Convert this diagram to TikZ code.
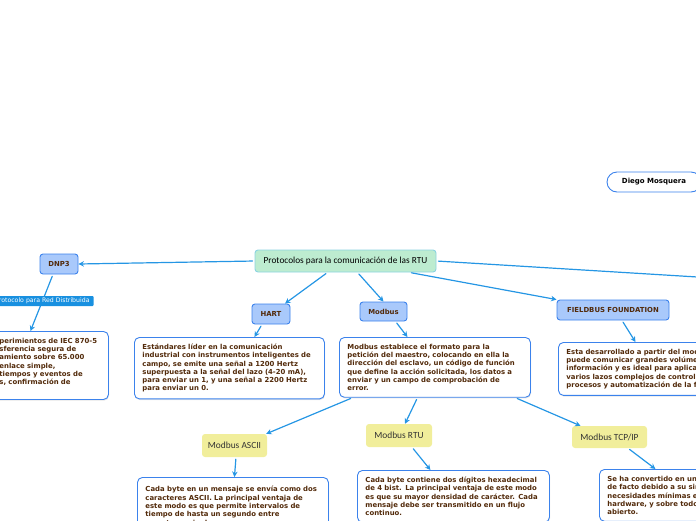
\documentclass[tikz,border=0pt]{standalone}
\usepackage{fontspec}
\setmainfont{DejaVu Sans}
\newfontfamily\calfont{Carlito}
\usetikzlibrary{shadows,arrows.meta}
\definecolor{linea}{RGB}{37,150,228}
\definecolor{azulfill}{RGB}{169,201,251}
\definecolor{azulborde}{RGB}{59,130,236}
\definecolor{verdefill}{RGB}{189,236,208}
\definecolor{verdeborde}{RGB}{138,211,224}
\definecolor{amarillo}{RGB}{241,238,155}
\definecolor{marron}{RGB}{82,42,10}
\definecolor{etiq}{RGB}{24,144,224}
\begin{document}
\begin{tikzpicture}[x=1pt,y=-1pt,line join=round,line cap=round,>={Stealth[length=5.5pt,width=5.5pt]}]
	\tikzset{
		tema/.style={rounded corners=3pt,draw=verdeborde,fill=verdefill,line width=0.9pt,font=\calfont\fontsize{9.3}{10}\selectfont,text=black,inner sep=0pt,minimum width=181pt,minimum height=22pt},
		sub/.style={rounded corners=3pt,draw=azulborde,fill=azulfill,line width=0.9pt,font=\bfseries\fontsize{6.9}{8}\selectfont,text=marron,inner sep=0pt,minimum height=20pt},
		modo/.style={rounded corners=3pt,fill=amarillo,font=\calfont\fontsize{9.4}{10}\selectfont,text=black!80,inner sep=0pt,minimum height=23pt},
		caja/.style={rounded corners=5pt,draw=azulborde,fill=white,line width=0.9pt,drop shadow={shadow xshift=0.6pt,shadow yshift=-1.2pt,opacity=0.2},font=\bfseries\fontsize{6.9}{8.3}\selectfont,text=marron,align=left,inner xsep=8pt,inner ysep=6.5pt,anchor=north west},
		flecha/.style={->,draw=linea,line width=1.2pt,shorten <=2pt},
		etiqueta/.style={fill=etiq,text=white,font=\fontsize{6.2}{7}\selectfont,rounded corners=1pt,inner xsep=4pt,inner ysep=2pt}
	}
	\useasboundingbox (0,0) rectangle (696,520);
	\clip (0,0) rectangle (696,520);
	% nodos principales
	\node[tema] (hub) at (345.5,261) {Protocolos para la comunicación de las RTU};
	\node[sub,minimum width=38pt] (dnp) at (59,264) {DNP3};
	\node[sub,minimum width=38pt] (hart) at (271,314) {HART};
	\node[sub,minimum width=47pt,minimum height=19pt] (modbus) at (383.5,311.5) {Modbus};
	\node[sub,minimum width=112pt] (fb) at (613,310) {FIELDBUS FOUNDATION};
	\node[draw=azulborde,fill=white,line width=0.9pt,rounded corners=10pt,minimum width=94pt,minimum height=20pt,inner sep=0pt,font=\bfseries\fontsize{7}{8}\selectfont] (autor) at (654,182) {Diego Mosquera};
	\coordinate (fuera) at (730,279);
	% textos
	\node[caja,text width=101pt] (dnptxt) at (-9,331) {perimientos de IEC 870-5\\sferencia segura de\\amiento sobre 65.000\\enlace simple,\\tiempos y eventos de\\s, confirmación de\\~};
	\node[caja,text width=174pt] (harttxt) at (134,337) {Estándares líder en la comunicación\\industrial con instrumentos inteligentes de\\campo, se emite una señal a 1200 Hertz\\superpuesta a la señal del lazo (4-20 mA),\\para enviar un 1, y una señal a 2200 Hertz\\para enviar un 0.};
	\node[caja,text width=175pt] (modtxt) at (339,337) {Modbus establece el formato para la\\petición del maestro, colocando en ella la\\dirección del esclavo, un código de función\\que define la acción solicitada, los datos a\\enviar y un campo de comprobación de\\error.};
	\node[caja,text width=200pt] (fbtxt) at (558,342) {Esta desarrollado a partir del modelo\\puede comunicar grandes volúmenes de\\información y es ideal para aplicaciones\\varios lazos complejos de control de\\procesos y automatización de la fábrica.};
	% modos de modbus
	\node[modo,minimum width=65pt] (ascii) at (234.5,445.5) {Modbus ASCII};
	\node[modo,minimum width=66pt] (rtu) at (399,435.5) {Modbus RTU};
	\node[modo,minimum width=75pt,minimum height=22pt] (tcp) at (609.5,437) {Modbus TCP/IP};
	\node[caja,text width=175pt,inner ysep=9pt] (asctxt) at (137,477) {Cada byte en un mensaje se envía como dos\\caracteres ASCII. La principal ventaja de\\este modo es que permite intervalos de\\tiempo de hasta un segundo entre\\caracteres sin dar error.};
	\node[caja,text width=176pt] (rtutxt) at (357,470) {Cada byte contiene dos dígitos hexadecimal\\de 4 bist. La principal ventaja de este modo\\es que su mayor densidad de carácter. Cada\\mensaje debe ser transmitido en un flujo\\continuo.};
	\node[caja,text width=200pt] (tcptxt) at (599,469) {Se ha convertido en un estándar\\de facto debido a su simplicidad\\necesidades mínimas en\\hardware, y sobre todo\\abierto.};
	% conectores
	\draw[flecha] (hub.west) -- (dnp.east);
	\draw[flecha] ([xshift=-18pt]hub.south) -- ([xshift=14pt]hart.north);
	\draw[flecha] ([xshift=12pt]hub.south) -- (modbus.north);
	\draw[flecha] ([xshift=64pt]hub.south) -- (fb.north west);
	\draw[flecha,-] (hub.east) -- (fuera);
	\draw[flecha] ([xshift=-6pt]dnp.south) -- node[etiqueta,pos=0.47] (red) {Protocolo para Red Distribuida} ([xshift=-19.5pt]dnptxt.north);
	\draw[flecha] ([xshift=-9pt]hart.south) -- ([xshift=25pt]harttxt.north);
	\draw[flecha] ([xshift=12pt]modbus.south) -- ([xshift=-27.5pt]modtxt.north);
	\draw[flecha] ([xshift=9pt]fb.south) -- ([xshift=-31pt]fbtxt.north);
	\draw[flecha] ([xshift=-82.5pt]modtxt.south) -- ([xshift=-1pt]ascii.north east);
	\draw[flecha] ([xshift=-17.5pt]modtxt.south) -- ([xshift=6pt]rtu.north);
	\draw[flecha] ([xshift=80.5pt]modtxt.south) -- ([xshift=-29pt]tcp.north);
	\draw[flecha] ([xshift=1.5pt]ascii.south) -- ([xshift=1.5pt]asctxt.north);
	\draw[flecha] ([xshift=13pt]rtu.south) -- ([xshift=-23pt]rtutxt.north);
	\draw[flecha] ([xshift=18.5pt]tcp.south) -- ([xshift=-52pt]tcptxt.north);
\end{tikzpicture}
\end{document}
